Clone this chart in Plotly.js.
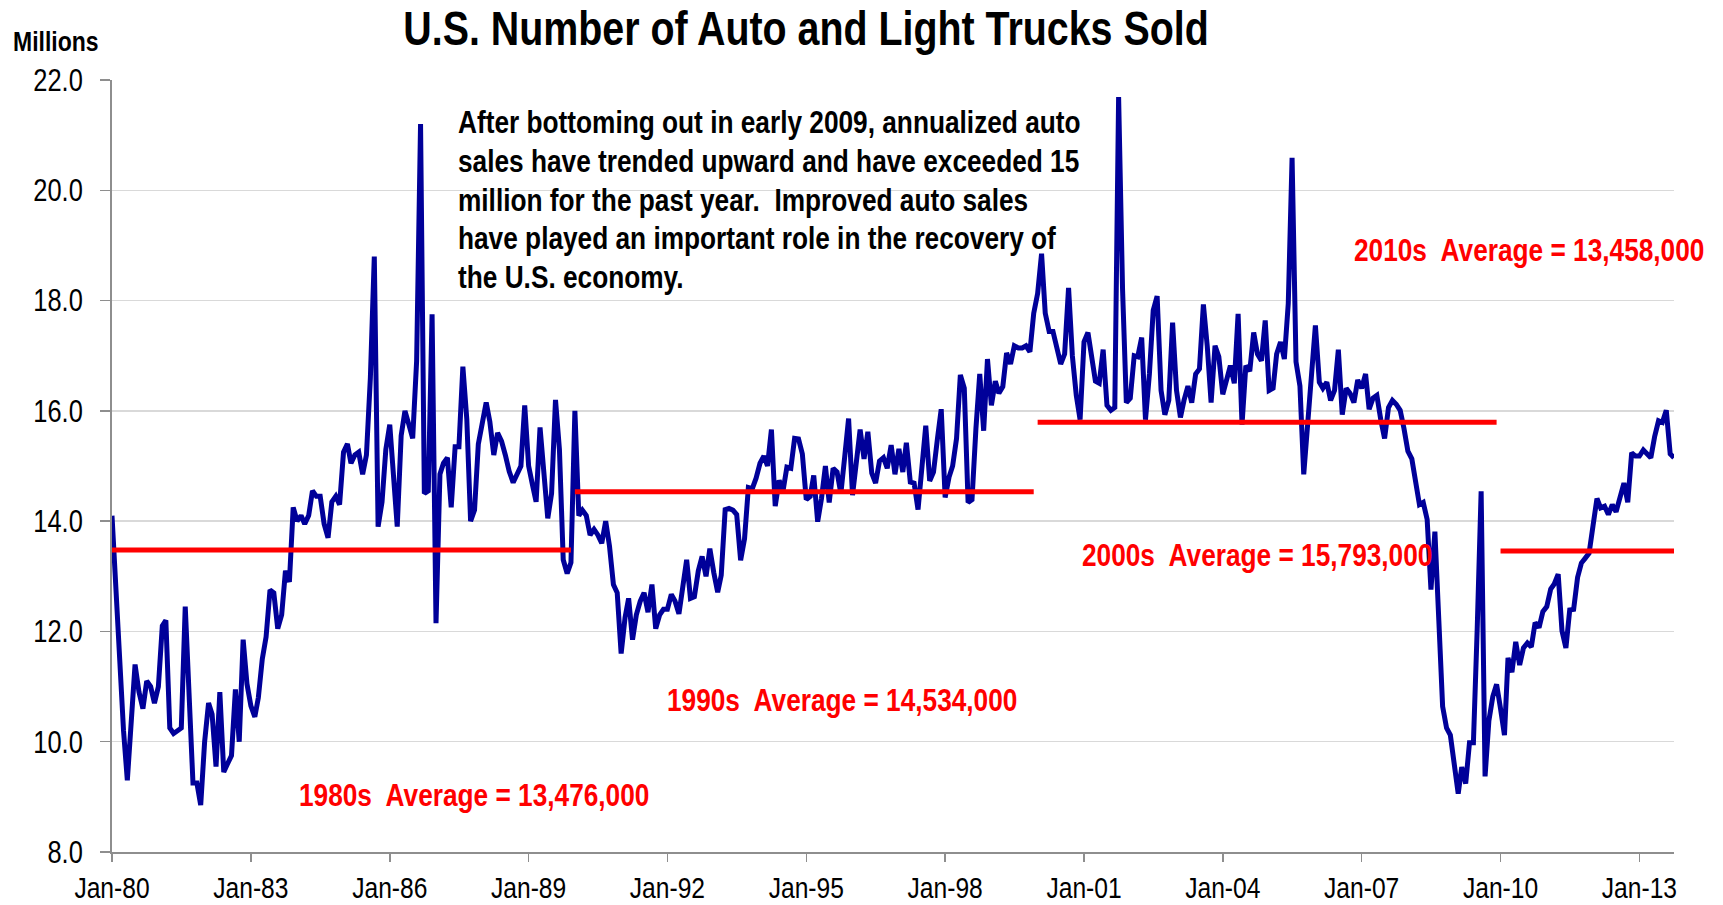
<!DOCTYPE html>
<html>
<head>
<meta charset="utf-8">
<script src="https://cdn.plot.ly/plotly-3.0.1.min.js"></script>
<style>
  html, body { margin: 0; padding: 0; background: #ffffff; }
  #chart { width: 1723px; height: 905px; }
</style>
</head>
<body>
<div id="chart"></div>
<script>
// ---------------- DATA (millions of units, monthly, annualized) ----------------
const startYear = 1980;
const sales1980s = [
  14.1, 12.8, 11.3, 10.2, 9.3, 10.3, 11.4, 10.9, 10.6, 11.1, 11.0, 10.7,
  11.0, 12.1, 12.2, 10.25, 10.15, 10.2, 10.25, 12.45, 10.8, 9.25, 9.25, 8.85,
  10.0, 10.7, 10.5, 9.55, 10.9, 9.45, 9.6, 9.75, 10.95, 10.0, 11.85, 11.05,
  10.65, 10.45, 10.8, 11.5, 11.9, 12.75, 12.7, 12.05, 12.3, 13.1, 12.9, 14.25,
  14.0, 14.1, 13.95, 14.1, 14.55, 14.45, 14.45, 13.95, 13.7, 14.35, 14.45, 14.3,
  15.25, 15.4, 15.05, 15.2, 15.25, 14.85, 15.2, 16.6, 18.8, 13.9, 14.35, 15.3,
  15.75, 14.9, 13.9, 15.55, 16.0, 15.75, 15.5, 16.9, 21.2, 14.5, 14.55, 17.75,
  12.15, 14.85, 15.05, 15.15, 14.25, 15.35, 15.35, 16.8, 15.85, 14.0, 14.2, 15.4,
  15.75, 16.15, 15.8, 15.2, 15.6, 15.45, 15.2, 14.9, 14.7, 14.85, 15.0, 16.1,
  15.0, 14.65, 14.35, 15.7, 14.75, 14.05, 14.5, 16.2, 15.3, 13.3, 13.05, 13.25
];
const sales1990s = [
  16.0, 14.1, 14.2, 14.1, 13.75, 13.85, 13.75, 13.6, 14.0, 13.55, 12.85, 12.7,
  11.6, 12.25, 12.6, 11.85, 12.3, 12.55, 12.7, 12.35, 12.85, 12.05, 12.3, 12.4,
  12.4, 12.67, 12.55, 12.32, 12.8, 13.3, 12.6, 12.63, 13.1, 13.36, 13.0, 13.5,
  13.07, 12.71, 13.02, 14.21, 14.23, 14.2, 14.12, 13.29, 13.68, 14.61, 14.59, 14.78,
  15.05, 15.18, 15.0, 15.66, 14.27, 14.74, 14.54, 14.98, 14.96, 15.5, 15.49, 15.22,
  14.39, 14.45, 14.83, 13.99, 14.41, 15.0, 14.34, 14.96, 14.89, 14.5, 15.18, 15.86,
  14.47, 15.15, 15.66, 15.13, 15.62, 14.87, 14.69, 15.09, 15.15, 14.96, 15.38, 14.85,
  15.31, 14.89, 15.42, 14.71, 14.69, 14.21, 14.96, 15.73, 14.73, 14.89, 15.49, 16.03,
  14.43, 14.8, 15.0, 15.5, 16.65, 16.41, 14.34, 14.39, 15.68, 16.67, 15.64, 16.94,
  16.1, 16.54, 16.32, 16.44, 17.05, 16.85, 17.18, 17.14, 17.14, 17.18, 17.07, 17.77
];
const sales2000s = [
  18.13, 18.85, 17.77, 17.44, 17.44, 17.11, 16.85, 17.03, 18.23, 17.0, 16.28, 15.84,
  17.25, 17.42, 16.98, 16.54, 16.5, 17.11, 16.1, 16.01, 16.06, 21.69, 18.21, 16.15,
  16.23, 17.0, 16.98, 17.33, 15.84, 16.67, 17.82, 18.08, 16.37, 15.93, 16.19, 17.6,
  16.37, 15.88, 16.19, 16.45, 16.15, 16.67, 16.76, 17.93, 17.16, 16.15, 17.18, 16.98,
  16.3, 16.61, 16.82, 16.5, 17.76, 15.75, 16.82, 16.72, 17.42, 17.03, 16.91, 17.64,
  16.37, 16.41, 17.03, 17.25, 16.94, 17.95, 20.59, 16.89, 16.45, 14.85, 15.84, 16.72,
  17.55, 16.52, 16.41, 16.52, 16.19, 16.37, 17.11, 15.93, 16.41, 16.32, 16.15, 16.56,
  16.41, 16.67, 16.03, 16.23, 16.28, 15.84, 15.5, 16.06, 16.19, 16.12, 16.01, 15.68,
  15.27, 15.13, 14.74, 14.3, 14.34, 14.03, 12.76, 13.81, 12.2, 10.64, 10.25, 10.12,
  9.59, 9.06, 9.54, 9.24, 9.98, 9.98, 12.05, 14.54, 9.37, 10.38, 10.82, 11.04
];
const sales2010s = [
  10.6, 10.12, 11.52, 11.26, 11.81, 11.39, 11.7, 11.79, 11.72, 12.16, 12.07, 12.36,
  12.45, 12.77, 12.86, 13.04, 12.01, 11.7, 12.39, 12.4, 12.98, 13.24, 13.33, 13.42,
  13.92, 14.41, 14.24, 14.27, 14.12, 14.3, 14.17, 14.43, 14.69, 14.34, 15.24, 15.18,
  15.18, 15.29, 15.22, 15.15, 15.53, 15.82, 15.79, 16.01, 15.22, 15.15
];
const decadeLabels = ["1980s", "1990s", "2000s", "2010s"];
const decadeAverages = [13476000, 14534000, 15793000, 13458000];
const tickYears = [1980, 1983, 1986, 1989, 1992, 1995, 1998, 2001, 2004, 2007, 2010, 2013];
const tickLabels = ["Jan-80", "Jan-83", "Jan-86", "Jan-89", "Jan-92", "Jan-95", "Jan-98",
                    "Jan-01", "Jan-04", "Jan-07", "Jan-10", "Jan-13"];
const titleText = "U.S. Number of Auto and Light Trucks Sold";
const noteLines = [
  "After bottoming out in early 2009, annualized auto",
  "sales have trended upward and have exceeded 15",
  "million for the past year.  Improved auto sales",
  "have played an important role in the recovery of",
  "the U.S. economy."
];

// ---------------- BUILD ----------------
const FONT = "'Liberation Sans', Arial, sans-serif";
const NARROW_FACTOR = 0.82;   // emulate a narrow (condensed) face
const decades = [sales1980s, sales1990s, sales2000s, sales2010s];
const allSales = [].concat(...decades);
function monthDate(i) {
  const y = startYear + Math.floor(i / 12);
  const m = (i % 12) + 1;
  return y + "-" + (m < 10 ? "0" + m : m) + "-01";
}
const xAll = allSales.map((_, i) => monthDate(i));

const traces = [{
  type: "scatter", mode: "lines", x: xAll, y: allSales,
  line: { color: "#000099", width: 5 }, hoverinfo: "x+y"
}];
let offset = 0;
decades.forEach((d, k) => {
  const xs = d.map((_, i) => monthDate(offset + i));
  traces.push({
    type: "scatter", mode: "lines", x: xs, y: xs.map(() => decadeAverages[k] / 1e6),
    line: { color: "#FF0000", width: 5 }, hoverinfo: "y"
  });
  offset += d.length;
});

// plot-area pixel geometry used only for placing text annotations
const L = 112, R = 1674, T = 80, B = 852;
const px = (x) => (x - L) / (R - L);
const py = (y) => (B - y) / (B - T);

const annotations = [{
  text: "<b>Millions</b>", xref: "paper", yref: "paper", x: px(11), y: py(41),
  xanchor: "left", yanchor: "middle", align: "left", showarrow: false,
  font: { family: FONT, size: 28, color: "#000000" }
}];
const noteY = [122.5, 161, 199.5, 238, 276.5];
noteLines.forEach((t, i) => annotations.push({
  text: "<b>" + t + "</b>", xref: "paper", yref: "paper", x: px(456), y: py(noteY[i]),
  xanchor: "left", yanchor: "middle", align: "left", showarrow: false,
  font: { family: FONT, size: 32, color: "#000000" }
}));
const labelPos = [[297, 795], [665, 699.5], [1080, 554.5], [1352, 249.7]];
decadeLabels.forEach((lab, k) => annotations.push({
  text: "<b>" + lab + "  Average = " + decadeAverages[k].toLocaleString("en-US") + "</b>",
  xref: "paper", yref: "paper", x: px(labelPos[k][0]), y: py(labelPos[k][1]),
  xanchor: "left", yanchor: "middle", align: "left", showarrow: false,
  font: { family: FONT, size: 32, color: "#FF0000" }
}));

const layout = {
  width: 1723, height: 905,
  margin: { l: L, r: 1723 - R, t: T, b: 905 - B, pad: 0 },
  paper_bgcolor: "#ffffff", plot_bgcolor: "#ffffff",
  showlegend: false,
  title: {
    text: "<b>" + titleText + "</b>", xref: "container", yref: "container",
    x: 806 / 1723, xanchor: "center", y: 1 - 28 / 905, yanchor: "middle",
    font: { family: FONT, size: 48, color: "#000000" }
  },
  xaxis: {
    type: "date", range: [monthDate(0), monthDate(allSales.length - 1)],
    tickmode: "array", tickvals: tickYears.map(y => y + "-01-01"), ticktext: tickLabels,
    ticks: "outside", ticklen: 8, tickwidth: 1.5, tickcolor: "#8E8E8E",
    showgrid: false, zeroline: false, showline: true, linecolor: "#8E8E8E", linewidth: 2,
    tickfont: { family: FONT, size: 30, color: "#000000" }
  },
  yaxis: {
    range: [8, 22], tick0: 8, dtick: 2, tickformat: ".1f",
    ticks: "outside", ticklen: 10, tickwidth: 1.5, tickcolor: "#8E8E8E",
    showgrid: true, gridcolor: "#D9D9D9", gridwidth: 1.5,
    zeroline: false, showline: true, linecolor: "#8E8E8E", linewidth: 2,
    tickfont: { family: FONT, size: 31, color: "#000000" }, ticklabelstandoff: 11
  },
  annotations: annotations
};

Plotly.newPlot("chart", traces, layout, { displayModeBar: false, staticPlot: true }).then(gd => {
  // condense every text horizontally, keeping its anchor point
  gd.querySelectorAll("svg text").forEach(t => {
    const w = t.getComputedTextLength();
    if (w > 0) {
      t.setAttribute("textLength", (w * NARROW_FACTOR).toFixed(2));
      t.setAttribute("lengthAdjust", "spacingAndGlyphs");
    }
  });
});
</script>
</body>
</html>
